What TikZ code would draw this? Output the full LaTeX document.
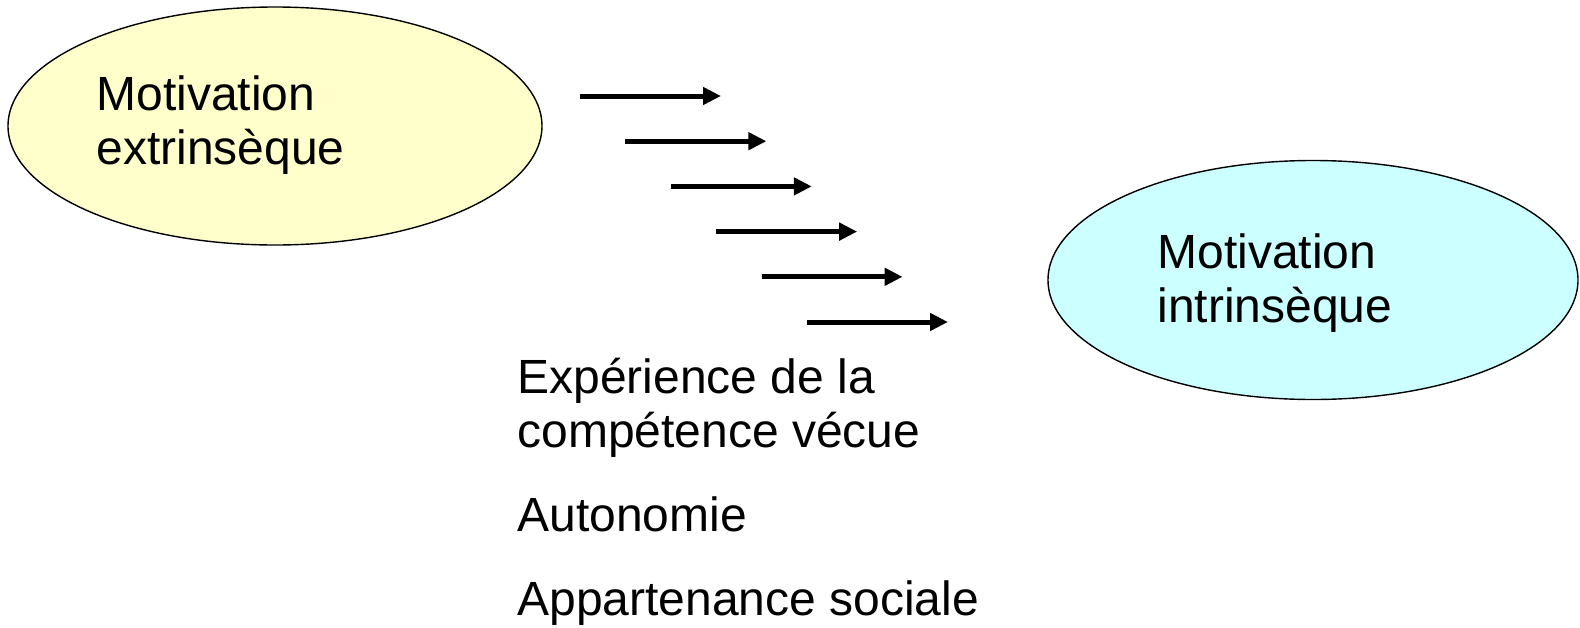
\documentclass[tikz,border=0pt]{standalone}
\usepackage{fontspec}
\setmainfont{Liberation Sans}
\usetikzlibrary{shapes.geometric,arrows.meta}
\definecolor{yellowfill}{HTML}{FFFFCC}
\definecolor{cyanfill}{HTML}{CCFFFF}
\begin{document}
\begin{tikzpicture}[x=0.5pt,y=-0.5pt,
  bubble/.style={ellipse,draw=black,line width=0.7pt,inner sep=0pt},
  lbl/.style={anchor=base west,inner sep=0pt,align=left,font=\fontsize{24}{27}\selectfont},
  arr/.style={line width=2.5pt,-{Triangle[length=9pt,width=8.5pt]}}]
\useasboundingbox (0,0) rectangle (1580,627);
\node[bubble,fill=yellowfill,minimum width=267pt,minimum height=119pt] (e1) at (275,126) {};
\node[bubble,fill=cyanfill,minimum width=265pt,minimum height=119.5pt] (e2) at (1313,280) {};
\node[lbl] (t1) at (96,164) {Motivation\\extrinsèque};
\node[lbl] (t2) at (1157,322) {Motivation\\intrinsèque};
\node[lbl] (t3) at (517,615) {Expérience de la\\compétence vécue\\[15pt]Autonomie\\[15pt]Appartenance sociale};
\foreach \i in {0,...,5} {
  \coordinate (s\i) at ({580+45.4*\i},{96+45.2*\i});
  \coordinate (f\i) at ({721+45.4*\i},{96+45.2*\i});
  \draw[arr] (s\i) -- (f\i);
}
\end{tikzpicture}
\end{document}
